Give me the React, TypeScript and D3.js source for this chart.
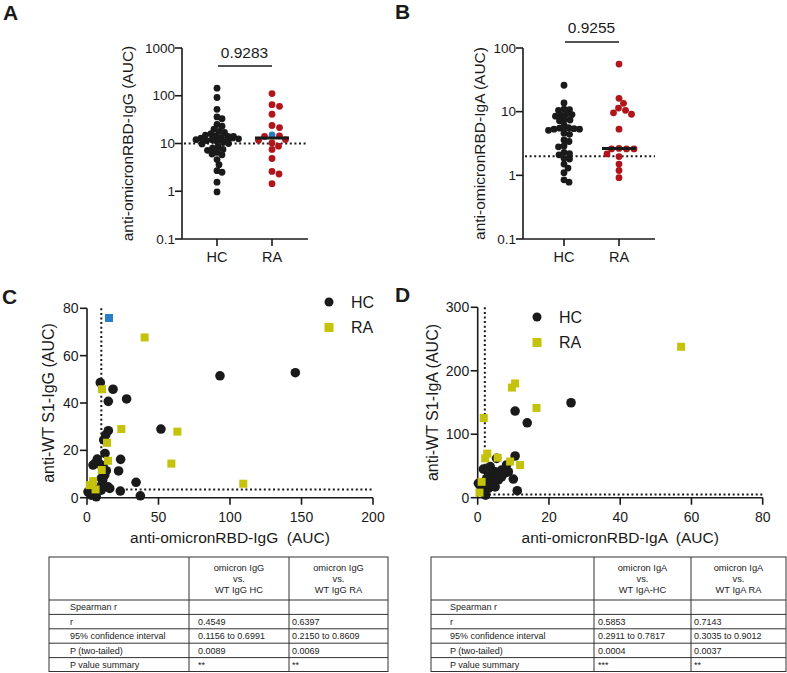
import React from "react";
import * as d3 from "d3";

const FONT = "'Liberation Sans', Arial, Helvetica, sans-serif";
const INK = "#1a1a1a";
const RED = "#b0151c";
const BLUE = "#2a7cc6";
const YELLOW = "#c5c20c";

// ---------- Panel A: anti-omicronRBD-IgG (AUC) ----------
const groups = ["HC", "RA"];
const igG_HC = [144, 92, 52, 36, 33, 25, 23, 20, 18, 17, 16, 15, 14.5, 14, 14, 13.5, 13, 12.5, 12, 12, 11.5, 11, 10.5, 10, 9.8, 8.5, 8, 7.5, 7.2, 6.5, 6, 5.8, 4.6, 3.6, 2.7, 2.5, 1.55, 0.97];
const igG_RA = [111, 65, 60, 41, 23.8, 21.6, 14.5, 14, 12.1, 11.7, 10.3, 8.8, 7.5, 4.85, 2.6, 2.3, 1.44];
const igG_RA_highlight = [15.2];
const ticksA = [0.1, 1, 10, 100, 1000];
const cutoffA = 10;
const pA = "0.9283";

// ---------- Panel B: anti-omicronRBD-IgA (AUC) ----------
const igA_HC = [26, 13.7, 11, 10.8, 10.5, 9.2, 9, 8.8, 8.5, 7.6, 7.4, 7.2, 6.2, 5.6, 5.5, 5.4, 5.3, 5.3, 5.1, 4.6, 4.4, 3.6, 3.4, 2.9, 2.8, 2.3, 2.2, 2.1, 1.85, 1.8, 1.5, 1.3, 1.1, 0.85, 0.78];
const igA_RA = [56, 16.2, 13.5, 11.4, 10.5, 9.6, 9.1, 5.3, 2.65, 2.6, 2.6, 2.6, 2.17, 1.97, 1.5, 1.19, 0.92];
const ticksB = [0.1, 1, 10, 100];
const cutoffB = 2;
const pB = "0.9255";

// ---------- Panel C: omicron IgG vs WT S1 IgG ----------
const scatterC_HC: [number, number][] = [
  [93, 51.5], [145.7, 52.8], [9.3, 48.6], [18.2, 45.8], [27.7, 41.7], [14.9, 40.7], [51.7, 29], [14.9, 28.3],
  [13.1, 26.5], [11.7, 24.4], [12.6, 18.7], [23.5, 16.2], [7.2, 16.3], [4.2, 13.8], [8.9, 14.2], [11.2, 13.4],
  [22.1, 11.3], [13.5, 11.4], [12.4, 9.6], [10, 8.2], [34.3, 6.5], [14.7, 4.6], [15.9, 3.9], [8.9, 4.6],
  [23.3, 2.8], [37.3, 0.8], [0.7, 2.5], [4.2, 2.5], [3, 1.1], [6.5, 0.4], [10, 3.2], [5.6, 14.5], [11, 7.5], [2, 2.8],
];
const scatterC_RA: [number, number][] = [
  [40.3, 67.7], [10.5, 45.8], [24, 29], [63.2, 27.9], [14, 23.2], [59, 14.4], [14.7, 15.6], [109.3, 5.9],
  [4.3, 7], [1.9, 5.3], [10.3, 11.7], [6, 3.5],
];
const scatterC_highlight: [number, number][] = [[15.4, 75.9]];
const xTicksC = [0, 50, 100, 150, 200];
const yTicksC = [0, 20, 40, 60, 80];
const cutoffC_x = 10;
const cutoffC_y = 3.5;

// ---------- Panel D: omicron IgA vs WT S1 IgA ----------
const scatterD_HC: [number, number][] = [
  [26.2, 149.6], [10.5, 136.5], [13.9, 118], [10.5, 65.7], [5.3, 62], [8.1, 51.5], [3.5, 49], [1.6, 45],
  [6.7, 43.6], [8.6, 41], [4.9, 41], [3.5, 36], [5.8, 36], [7.7, 39], [2.5, 30], [4.4, 33], [6.7, 33],
  [10, 29.4], [2, 25], [3.9, 22.6], [5.8, 28], [0.6, 20], [2.5, 17], [4.9, 17], [1.6, 12], [3, 14.8],
  [11.1, 11], [2, 7], [0.2, 22.6], [2.2, 4],
];
const scatterD_RA: [number, number][] = [
  [57.1, 237.8], [10.5, 180], [9.6, 173.5], [16.5, 141.5], [1.7, 125.5], [2.7, 69.5], [2.1, 62], [9.1, 57],
  [11.9, 51.5], [0.5, 8], [5.6, 63], [1.1, 25],
];
const xTicksD = [0, 20, 40, 60, 80];
const yTicksD = [0, 100, 200, 300];
const cutoffD_x = 2;
const cutoffD_y = 5;

// ---------- Tables ----------
const rowLabels = ["Spearman r", "r", "95% confidence interval", "P (two-tailed)", "P value summary"];
const headC1 = ["omicron IgG", "vs.", "WT IgG HC"];
const headC2 = ["omicron IgG", "vs.", "WT IgG RA"];
const valsC1 = ["", "0.4549", "0.1156 to 0.6991", "0.0089", "**"];
const valsC2 = ["", "0.6397", "0.2150 to 0.8609", "0.0069", "**"];
const headD1 = ["omicron IgA", "vs.", "WT IgA-HC"];
const headD2 = ["omicron IgA", "vs.", "WT IgA RA"];
const valsD1 = ["", "0.5853", "0.2911 to 0.7817", "0.0004", "***"];
const valsD2 = ["", "0.7143", "0.3035 to 0.9012", "0.0037", "**"];

// greedy beeswarm: returns x offsets
function swarm(ys: number[], wx: number, wy: number): number[] {
  const order = ys.map((py, i) => ({ py, i })).sort((a, b) => a.py - b.py);
  const placed: { x: number; y: number }[] = [];
  const out = new Array(ys.length).fill(0);
  for (const p of order) {
    let best = 0;
    for (let k = 0; k < 2000; k++) {
      const off = (k % 2 === 1 ? 1 : -1) * Math.ceil(k / 2) * 0.5;
      const ok = placed.every((q) => ((q.x - off) / wx) ** 2 + ((q.y - p.py) / wy) ** 2 >= 1);
      if (ok) { best = off; break; }
    }
    placed.push({ x: best, y: p.py });
    out[p.i] = best;
  }
  return out;
}

function fmtTick(v: number) {
  return v < 1 ? String(v) : d3.format("d")(v);
}

type DotProps = {
  axisX: number; xEnd: number; yTop: number; yBot: number;
  catRange: [number, number]; ticks: number[];
  hc: number[]; ra: number[]; hl: number[]; cutoff: number;
  pText: string; pBase: number; pLineY: number;
  title: string; titleX: number; tickLabelX: number;
};

function DotPlot(p: DotProps) {
  const y = d3.scaleLog().domain([p.ticks[0], p.ticks[p.ticks.length - 1]]).range([p.yBot, p.yTop]);
  const x = d3.scalePoint<string>().domain(groups).range(p.catRange);
  const r = 3.4;
  const hcY = p.hc.map((v) => y(v));
  const raAll = [...p.ra, ...p.hl];
  const raY = raAll.map((v) => y(v));
  const hcOff = swarm(hcY, 5.2, 5.4);
  const raOff = swarm(raY, 7.5, 6.2);
  const medHC = d3.median(p.hc)!;
  const medRA = d3.median(raAll)!;
  const xHC = x("HC")!;
  const xRA = x("RA")!;
  return (
    <g>
      <line x1={p.axisX + 2} x2={p.xEnd} y1={y(p.cutoff)} y2={y(p.cutoff)} stroke={INK} strokeWidth={2} strokeDasharray="2 2.6" />
      <line x1={p.axisX} x2={p.axisX} y1={p.yTop} y2={p.yBot} stroke={INK} strokeWidth={1.6} />
      <line x1={p.axisX} x2={p.xEnd} y1={p.yBot} y2={p.yBot} stroke={INK} strokeWidth={1.6} />
      {p.ticks.map((t) => (
        <g key={t}>
          <line x1={p.axisX - 7} x2={p.axisX} y1={y(t)} y2={y(t)} stroke={INK} strokeWidth={1.6} />
          <text x={p.tickLabelX} y={y(t)} dy="0.35em" textAnchor="end" fontSize={13.5} fill={INK}>{fmtTick(t)}</text>
        </g>
      ))}
      {groups.map((g) => (
        <g key={g}>
          <line x1={x(g)!} x2={x(g)!} y1={p.yBot} y2={p.yBot + 7} stroke={INK} strokeWidth={1.6} />
          <text x={x(g)!} y={p.yBot + 23} textAnchor="middle" fontSize={14.5} fill={INK}>{g}</text>
        </g>
      ))}
      <text transform={`translate(${p.titleX},${(p.yTop + p.yBot) / 2}) rotate(-90)`} textAnchor="middle" dy="0.35em" fontSize={15.5} fill={INK}>{p.title}</text>
      <text x={(xHC + xRA) / 2} y={p.pBase} textAnchor="middle" fontSize={15.5} fill={INK}>{p.pText}</text>
      <line x1={xHC + 1} x2={xRA} y1={p.pLineY} y2={p.pLineY} stroke={INK} strokeWidth={1.6} />
      {p.hc.map((v, i) => <circle key={"h" + i} cx={xHC + hcOff[i]} cy={hcY[i]} r={r} fill={INK} />)}
      {raAll.map((v, i) => <circle key={"r" + i} cx={xRA + raOff[i]} cy={raY[i]} r={r} fill={i >= p.ra.length ? BLUE : RED} />)}
      <line x1={xHC - 18} x2={xHC + 18} y1={y(medHC)} y2={y(medHC)} stroke={INK} strokeWidth={3} />
      <line x1={xRA - 17} x2={xRA + 17} y1={y(medRA)} y2={y(medRA)} stroke={INK} strokeWidth={3} />
    </g>
  );
}

type ScatProps = {
  xDomain: [number, number]; xRange: [number, number];
  yDomain: [number, number]; yRange: [number, number];
  xTicks: number[]; yTicks: number[];
  hc: [number, number][]; ra: [number, number][]; hl: [number, number][];
  cx: number; cy: number;
  xTitle: string; yTitle: string; yTitleX: number; xTitleY: number;
  legX: number; legY: number;
};

function Scatter(p: ScatProps) {
  const x = d3.scaleLinear().domain(p.xDomain).range(p.xRange);
  const y = d3.scaleLinear().domain(p.yDomain).range(p.yRange);
  const [x0, x1] = p.xRange;
  const [yb, yt] = p.yRange;
  const s = 8;
  return (
    <g>
      <line x1={x(p.cx)} x2={x(p.cx)} y1={yt} y2={yb - 1} stroke={INK} strokeWidth={2} strokeDasharray="2 2.6" />
      <line x1={x0 + 2} x2={x1} y1={y(p.cy)} y2={y(p.cy)} stroke={INK} strokeWidth={2} strokeDasharray="2 2.6" />
      <line x1={x0} x2={x0} y1={yt} y2={yb} stroke={INK} strokeWidth={1.6} />
      <line x1={x0} x2={x1} y1={yb} y2={yb} stroke={INK} strokeWidth={1.6} />
      {p.yTicks.map((t) => (
        <g key={t}>
          <line x1={x0 - 7} x2={x0} y1={y(t)} y2={y(t)} stroke={INK} strokeWidth={1.6} />
          <text x={x0 - 8.5} y={y(t)} dy="0.35em" textAnchor="end" fontSize={14} fill={INK}>{t}</text>
        </g>
      ))}
      {p.xTicks.map((t) => (
        <g key={t}>
          <line x1={x(t)} x2={x(t)} y1={yb} y2={yb + 7} stroke={INK} strokeWidth={1.6} />
          <text x={x(t)} y={yb + 24} textAnchor="middle" fontSize={14} fill={INK}>{t}</text>
        </g>
      ))}
      <text x={(x0 + x1) / 2} y={p.xTitleY} dy="0.35em" textAnchor="middle" fontSize={15.5} fill={INK} style={{ whiteSpace: "pre" }}>{p.xTitle}</text>
      <text transform={`translate(${p.yTitleX},${(yt + yb) / 2}) rotate(-90)`} textAnchor="middle" dy="0.35em" fontSize={16} fill={INK}>{p.yTitle}</text>
      {p.hc.map((d, i) => <circle key={"h" + i} cx={x(d[0])} cy={y(d[1])} r={4.8} fill={INK} />)}
      {p.ra.map((d, i) => <rect key={"r" + i} x={x(d[0]) - s / 2} y={y(d[1]) - s / 2} width={s} height={s} fill={YELLOW} />)}
      {p.hl.map((d, i) => <rect key={"b" + i} x={x(d[0]) - s / 2} y={y(d[1]) - s / 2} width={s} height={s} fill={BLUE} />)}
      <circle cx={p.legX} cy={p.legY} r={4.5} fill={INK} />
      <text x={p.legX + 22} y={p.legY} dy="0.36em" fontSize={16} fill={INK}>HC</text>
      <rect x={p.legX - 4.5} y={p.legY + 25.5 - 4.5} width={9} height={9} fill={YELLOW} />
      <text x={p.legX + 22} y={p.legY + 25.5} dy="0.36em" fontSize={16} fill={INK}>RA</text>
    </g>
  );
}

type TableProps = { cols: [number, number, number, number]; top: number; h1: string[]; h2: string[]; v1: string[]; v2: string[]; pad1: number; pad2: number; pad3: number };

function StatTable(p: TableProps) {
  const [a, b, c, d] = p.cols;
  const headBot = 600;
  const rowH = 14.4;
  const rowYs = rowLabels.map((_, i) => headBot + i * rowH);
  const bottom = headBot + rowLabels.length * rowH - 0.5;
  const stroke = "#333";
  return (
    <g fill="#222">
      <rect x={a} y={p.top} width={d - a} height={bottom - p.top} fill="none" stroke={stroke} strokeWidth={1} />
      <line x1={b} x2={b} y1={p.top} y2={bottom} stroke={stroke} strokeWidth={1} />
      <line x1={c} x2={c} y1={p.top} y2={bottom} stroke={stroke} strokeWidth={1} />
      {rowYs.map((ry, i) => <line key={i} x1={a} x2={d} y1={ry} y2={ry} stroke={stroke} strokeWidth={1} />)}
      <g fontSize={9.3}>
        {p.h1.map((t, i) => <text key={"a" + i} x={(b + c) / 2} y={571 + i * 10.8} textAnchor="middle">{t}</text>)}
        {p.h2.map((t, i) => <text key={"b" + i} x={(c + d) / 2} y={571 + i * 10.8} textAnchor="middle">{t}</text>)}
      </g>
      <g fontSize={9}>
        {rowLabels.map((t, i) => <text key={"l" + i} x={a + p.pad1} y={rowYs[i] + rowH / 2 + 3.2}>{t}</text>)}
        {p.v1.map((t, i) => <text key={"v" + i} x={b + p.pad2} y={rowYs[i] + rowH / 2 + 3.2}>{t}</text>)}
        {p.v2.map((t, i) => <text key={"w" + i} x={c + p.pad3} y={rowYs[i] + rowH / 2 + 3.2}>{t}</text>)}
      </g>
    </g>
  );
}

export default function App() {
  React.useEffect(() => { document.body.style.margin = "0"; }, []);
  return (
    <div style={{ position: "absolute", left: 0, top: 0 }}>
      <svg width={787} height={673} style={{ display: "block", background: "#fff" }} fontFamily={FONT}>
        <text x={3} y={20} fontSize={21} fontWeight="bold" fill={INK}>A</text>
        <text x={395} y={19} fontSize={21} fontWeight="bold" fill={INK}>B</text>
        <text x={2} y={304} fontSize={21} fontWeight="bold" fill={INK}>C</text>
        <text x={395} y={302} fontSize={21} fontWeight="bold" fill={INK}>D</text>

        <DotPlot axisX={182} xEnd={308} yTop={48} yBot={239} catRange={[217, 272]} ticks={ticksA}
          hc={igG_HC} ra={igG_RA} hl={igG_RA_highlight} cutoff={cutoffA}
          pText={pA} pBase={57.5} pLineY={66} title="anti-omicronRBD-IgG (AUC)" titleX={128} tickLabelX={175} />
        <DotPlot axisX={523} xEnd={655} yTop={48} yBot={239} catRange={[564, 619]} ticks={ticksB}
          hc={igA_HC} ra={igA_RA} hl={[]} cutoff={cutoffB}
          pText={pB} pBase={32.5} pLineY={42} title="anti-omicronRBD-IgA (AUC)" titleX={480} tickLabelX={516} />

        <Scatter xDomain={[0, 200]} xRange={[87, 373]} yDomain={[0, 80]} yRange={[497.7, 308.3]}
          xTicks={xTicksC} yTicks={yTicksC} hc={scatterC_HC} ra={scatterC_RA} hl={scatterC_highlight}
          cx={cutoffC_x} cy={cutoffC_y} xTitle="anti-omicronRBD-IgG  (AUC)" yTitle="anti-WT S1-IgG (AUC)"
          yTitleX={48} xTitleY={538} legX={329} legY={302} />
        <Scatter xDomain={[0, 80]} xRange={[477.7, 762.7]} yDomain={[0, 300]} yRange={[497.7, 307.3]}
          xTicks={xTicksD} yTicks={yTicksD} hc={scatterD_HC} ra={scatterD_RA} hl={[]}
          cx={cutoffD_x} cy={cutoffD_y} xTitle="anti-omicronRBD-IgA  (AUC)" yTitle="anti-WT S1-IgA (AUC)"
          yTitleX={432} xTitleY={538} legX={537} legY={317} />

        <StatTable cols={[49, 189, 289, 388]} top={557} h1={headC1} h2={headC2} v1={valsC1} v2={valsC2} pad1={21} pad2={9} pad3={3} />
        <StatTable cols={[431, 594, 691, 786]} top={557} h1={headD1} h2={headD2} v1={valsD1} v2={valsD2} pad1={19} pad2={4} pad3={3} />
      </svg>
    </div>
  );
}
